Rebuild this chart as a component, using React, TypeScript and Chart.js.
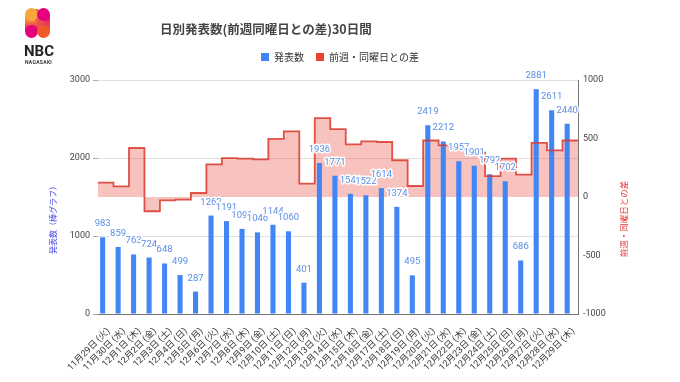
import React, { useEffect, useRef } from "react";
import { Chart, registerables } from "chart.js";

Chart.register(...registerables);

const dates = [
  "11月29日 (火)", "11月30日 (水)", "12月1日 (木)", "12月2日 (金)", "12月3日 (土)",
  "12月4日 (日)", "12月5日 (月)", "12月6日 (火)", "12月7日 (水)", "12月8日 (木)",
  "12月9日 (金)", "12月10日 (土)", "12月11日 (日)", "12月12日 (月)", "12月13日 (火)",
  "12月14日 (水)", "12月15日 (木)", "12月16日 (金)", "12月17日 (土)", "12月18日 (日)",
  "12月19日 (月)", "12月20日 (火)", "12月21日 (水)", "12月22日 (木)", "12月23日 (金)",
  "12月24日 (土)", "12月25日 (日)", "12月26日 (月)", "12月27日 (火)", "12月28日 (水)",
  "12月29日 (木)",
];

const counts = [
  983, 859, 763, 724, 648, 499, 287, 1262, 1191, 1091, 1046, 1144, 1060, 401, 1936,
  1771, 1541, 1522, 1614, 1374, 495, 2419, 2212, 1957, 1901, 1792, 1702, 686, 2881,
  2611, 2440,
];

const diffs = [
  123, 91, 419, -122, -28, -22, 34, 279, 332, 328, 322, 496, 561, 114, 674, 580, 450,
  476, 470, 314, 94, 483, 441, 416, 379, 178, 328, 191, 462, 399, 483,
];

const seriesNames = ["発表数", "前週・同曜日との差"];
const chartTitle = "日別発表数(前週同曜日との差)30日間";
const leftAxisTitle = "発表数（棒グラフ）";
const rightAxisTitle = "前週・同曜日との差";
const leftRange = { min: 0, max: 3000, step: 1000 };
const rightRange = { min: -1000, max: 1000, step: 500 };

const BLUE = "#4285f4";
const FONT = "Roboto, 'Noto Sans CJK JP', sans-serif";
const CJK = "'Noto Sans CJK JP', Roboto, sans-serif";

const legendSpacePlugin = {
  id: "legendSpace",
  beforeInit(chart: any) {
    const legend = chart.legend;
    if (!legend) return;
    const orig = legend.fit;
    legend.fit = function () {
      orig.call(this);
      this.height += 8;
    };
  },
};

const barLabelsPlugin = {
  id: "barLabels",
  afterDatasetsDraw(chart: any) {
    const ctx = chart.ctx;
    const meta = chart.getDatasetMeta(0);
    ctx.save();
    ctx.font = `9.5px ${FONT}`;
    ctx.textAlign = "center";
    ctx.textBaseline = "alphabetic";
    ctx.lineJoin = "round";
    meta.data.forEach((el: any, i: number) => {
      const t = String(counts[i]);
      ctx.strokeStyle = "#ffffff";
      ctx.lineWidth = 3;
      ctx.strokeText(t, el.x, el.y - 11);
      ctx.fillStyle = "#5b8ee6";
      ctx.fillText(t, el.x, el.y - 11);
    });
    ctx.restore();
  },
};

const textPlugin = {
  id: "texts",
  afterDraw(chart: any) {
    const ctx = chart.ctx;
    ctx.save();
    ctx.font = `bold 12.5px ${CJK}`;
    ctx.fillStyle = "#444";
    ctx.textAlign = "left";
    ctx.textBaseline = "middle";
    ctx.fillText(chartTitle, 160, 29);

    ctx.font = `8px ${CJK}`;
    ctx.textAlign = "center";
    ctx.fillStyle = "#3d3de6";
    ctx.translate(53, 218);
    ctx.rotate(-Math.PI / 2);
    ctx.fillText(leftAxisTitle, 0, 0);
    ctx.restore();

    ctx.save();
    ctx.font = `8.5px ${CJK}`;
    ctx.textAlign = "center";
    ctx.textBaseline = "middle";
    ctx.fillStyle = "#e53935";
    ctx.translate(624, 219);
    ctx.rotate(-Math.PI / 2);
    ctx.fillText(rightAxisTitle, 0, 0);
    ctx.restore();
  },
};

function Logo() {
  return (
    <div style={{ position: "absolute", left: 0, top: 0, width: 80, height: 70, pointerEvents: "none" }}>
      <svg width="80" height="42" style={{ position: "absolute", left: 0, top: 0 }}>
        <defs>
          <linearGradient id="gl" x1="0" y1="0" x2="0" y2="1">
            <stop offset="0" stopColor="#f9b233" />
            <stop offset="0.45" stopColor="#f07a3a" />
            <stop offset="1" stopColor="#e5007e" />
          </linearGradient>
          <linearGradient id="gr" x1="0" y1="0" x2="0" y2="1">
            <stop offset="0" stopColor="#e5007e" />
            <stop offset="0.55" stopColor="#ea3a55" />
            <stop offset="1" stopColor="#f05a28" />
          </linearGradient>
          <linearGradient id="gm" x1="0" y1="0" x2="1" y2="1">
            <stop offset="0" stopColor="#f07a3a" />
            <stop offset="1" stopColor="#e5206a" />
          </linearGradient>
        </defs>
        <rect x="25" y="14.5" width="13" height="17" fill="url(#gl)" />
        <rect x="37" y="14.5" width="13" height="17" fill="url(#gr)" />
        <polygon points="31,9 38,9 50,32 43,38" fill="url(#gm)" />
        <circle cx="31.5" cy="14.5" r="6.5" fill="#f8a83a" />
        <circle cx="43.5" cy="14.5" r="6.5" fill="#e5007e" />
        <circle cx="31.5" cy="31.5" r="6.5" fill="#e5007e" />
        <circle cx="43.5" cy="31.5" r="6.5" fill="#f05a28" />
      </svg>
      <div style={{ position: "absolute", left: 24, top: 44, font: `bold 15px Roboto, sans-serif`, lineHeight: "15px", color: "#222" }}>NBC</div>
      <div style={{ position: "absolute", left: 25, top: 60, font: `bold 5px Roboto, sans-serif`, lineHeight: "5px", color: "#333", letterSpacing: "0.3px" }}>NAGASAKI</div>
    </div>
  );
}

export default function App() {
  const canvasRef = useRef<HTMLCanvasElement | null>(null);

  useEffect(() => {
    if (!canvasRef.current) return;
    Chart.defaults.font.family = FONT;
    const linePoints = diffs.map((v, i) => ({ x: i, y: v }));
    linePoints.push({ x: diffs.length, y: diffs[diffs.length - 1] });

    const chart = new Chart(canvasRef.current, {
      type: "bar",
      data: {
        labels: dates,
        datasets: [
          {
            type: "bar",
            label: seriesNames[0],
            data: counts,
            backgroundColor: BLUE,
            borderWidth: 0,
            xAxisID: "x",
            yAxisID: "y",
            barPercentage: 0.82,
            categoryPercentage: 0.8,
            order: 1,
          } as any,
          {
            type: "line",
            label: seriesNames[1],
            data: linePoints,
            borderColor: "rgba(219,55,45,0.85)",
            backgroundColor: "rgba(234,67,53,0.32)",
            borderWidth: 1.8,
            pointRadius: 0,
            stepped: true,
            fill: "origin",
            xAxisID: "x2",
            yAxisID: "y1",
            order: 0,
          } as any,
        ],
      },
      options: {
        animation: false,
        responsive: false,
        layout: { padding: { top: 40, left: 0, right: 0, bottom: 0 } },
        plugins: {
          legend: {
            position: "top",
            labels: {
              boxWidth: 8,
              boxHeight: 8,
              padding: 12,
              color: "#333",
              font: { size: 10, family: CJK },
              sort: (a: any, b: any) => a.datasetIndex - b.datasetIndex,
              generateLabels: (c: any) =>
                (Chart as any).defaults.plugins.legend.labels
                  .generateLabels(c)
                  .map((it: any) => ({
                    ...it,
                    fillStyle: it.datasetIndex === 0 ? BLUE : "#ea4335",
                    strokeStyle: it.datasetIndex === 0 ? BLUE : "#ea4335",
                    lineWidth: 0,
                  })),
            },
          } as any,
          title: { display: false },
          tooltip: { enabled: false },
          filler: { drawTime: "beforeDatasetsDraw" } as any,
        },
        scales: {
          x: {
            type: "category",
            offset: true,
            grid: { display: false },
            border: { display: true, color: "#757575", width: 1 },
            ticks: {
              autoSkip: false,
              minRotation: 45,
              maxRotation: 45,
              padding: 4,
              labelOffset: 3,
              color: "#333",
              font: { size: 9 },
            },
            afterFit: (s: any) => {
              s.height = 68;
            },
          },
          x2: {
            type: "linear",
            display: false,
            offset: false,
            grid: { offset: false },
            min: 0,
            max: diffs.length,
          },
          y: {
            position: "left",
            min: leftRange.min,
            max: leftRange.max,
            ticks: {
              stepSize: leftRange.step,
              padding: 3,
              color: "#444",
              font: { size: 9 },
              callback: (v: any) => String(v),
            },
            grid: { color: "#e0e0e0", tickColor: "#aaa", tickLength: 5 },
            border: { display: false },
            afterFit: (s: any) => {
              s.width = 98;
            },
          },
          y1: {
            position: "right",
            min: rightRange.min,
            max: rightRange.max,
            ticks: {
              stepSize: rightRange.step,
              padding: 5,
              color: "#444",
              font: { size: 9 },
              callback: (v: any) => String(v),
            },
            grid: { drawOnChartArea: false, drawTicks: false },
            border: { display: true, color: "#777", width: 1 },
            afterFit: (s: any) => {
              s.width = 102;
            },
          },
        } as any,
      },
      plugins: [legendSpacePlugin, barLabelsPlugin, textPlugin],
    });
    return () => chart.destroy();
  }, []);

  return (
    <div style={{ position: "absolute", left: 0, top: 0, width: 680, height: 382, background: "#fff", overflow: "hidden" }}>
      <canvas ref={canvasRef} width={680} height={382} style={{ display: "block" }} />
      <Logo />
    </div>
  );
}
